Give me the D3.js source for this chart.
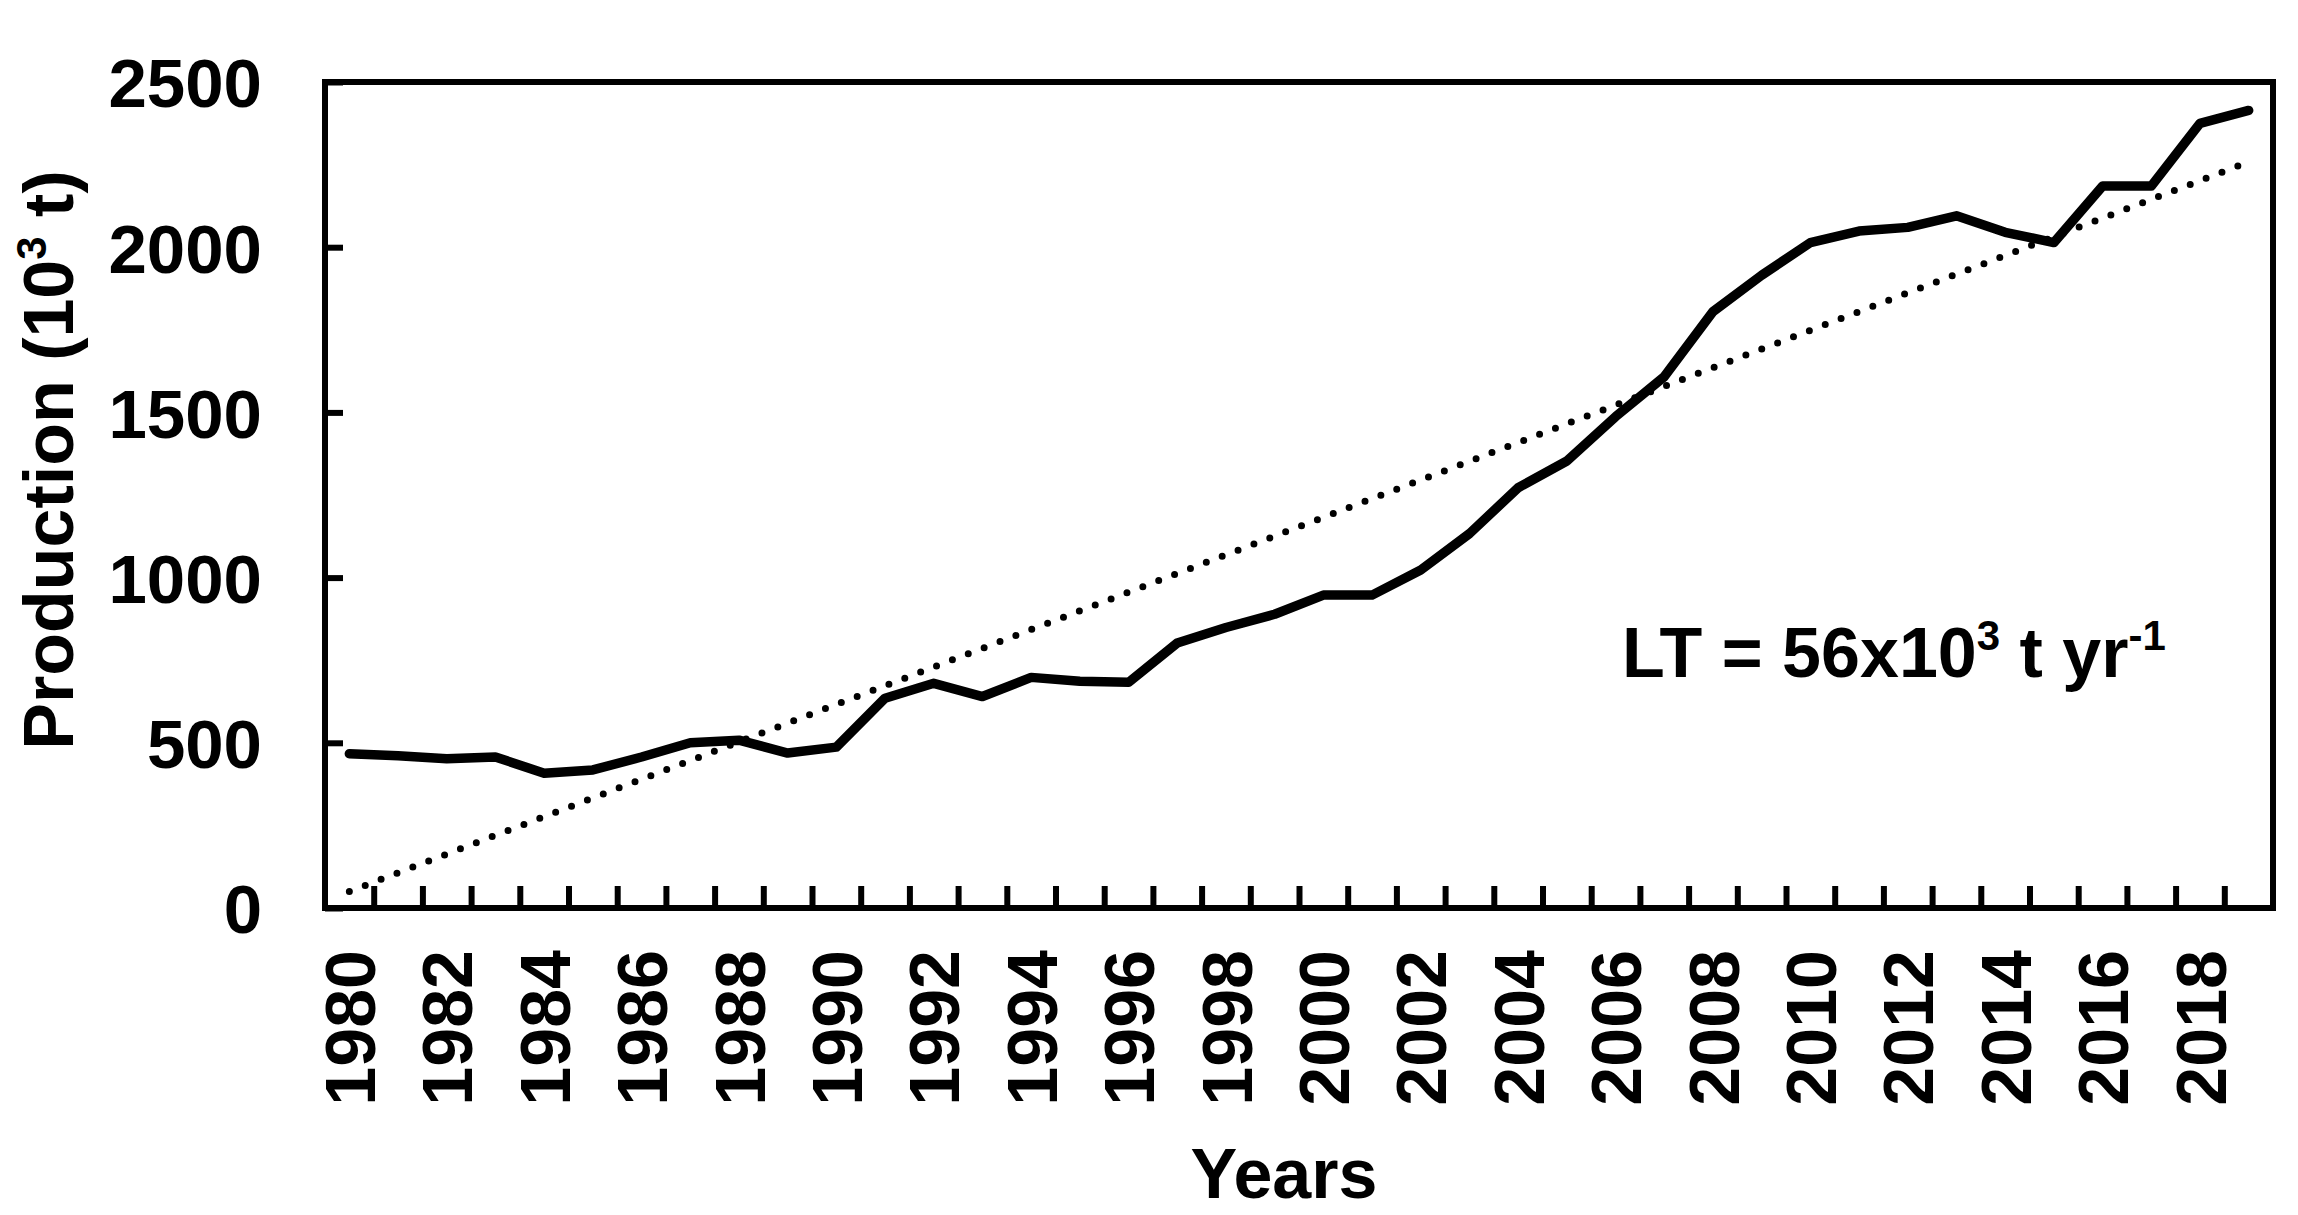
<!DOCTYPE html>
<html><head><meta charset="utf-8">
<script src="https://cdn.jsdelivr.net/npm/d3@7"></script>
<style>html,body{margin:0;padding:0;background:#fff;} svg{display:block;}</style>
</head><body>
<svg id="chart" width="2298" height="1215"></svg>
<script>
// ---- data ----
const years = [1980,1981,1982,1983,1984,1985,1986,1987,1988,1989,
               1990,1991,1992,1993,1994,1995,1996,1997,1998,1999,
               2000,2001,2002,2003,2004,2005,2006,2007,2008,2009,
               2010,2011,2012,2013,2014,2015,2016,2017,2018,2019];
const production = [467,461,452,457,408,418,457,500,508,469,
                    487,635,680,640,698,686,683,802,849,889,
                    947,947,1023,1133,1272,1353,1487,1608,1805,1915,
                    2014,2049,2060,2095,2045,2014,2185,2185,2375,2414];
const trendYears = [1980, 2019];
const trendValues = [50, 2258];
const yTickValues = [0, 500, 1000, 1500, 2000, 2500];
const xLabelYears = [1980,1982,1984,1986,1988,1990,1992,1994,1996,1998,
                     2000,2002,2004,2006,2008,2010,2012,2014,2016,2018];
const xTitle = "Years";
const yTitleParts = ["Production (10", "3", " t)"];
const annotationParts = ["LT = 56x10", "3", " t yr", "-1"];

// ---- layout ----
const W = 2298, H = 1215;
const L = 325, R = 2273, T = 82, B = 908;
const FONT = "'Liberation Sans', Arial, Helvetica, sans-serif";
const FS = 70;

const svg = d3.select("#chart");
const x = d3.scaleLinear().domain([years[0] - 0.5, years[years.length - 1] + 0.5]).range([L, R]);
const y = d3.scaleLinear().domain([0, 2500]).range([B, T]);

// x tick marks at category boundaries (inward)
const boundaries = years.slice(0, -1).map(d => d + 0.5);
const gxTicks = svg.append("g").attr("transform", `translate(0,${B})`)
  .call(d3.axisBottom(x).tickValues(boundaries).tickSize(-22).tickFormat(""));
gxTicks.select(".domain").remove();
gxTicks.selectAll(".tick line").attr("stroke", "#000").attr("stroke-width", 6);

// x labels, rotated
const gxLab = svg.append("g").attr("transform", `translate(0,${B})`)
  .call(d3.axisBottom(x).tickValues(xLabelYears).tickSize(0).tickFormat(d3.format("d")));
gxLab.select(".domain").remove();
gxLab.selectAll(".tick text")
  .attr("font-family", FONT).attr("font-size", FS).attr("font-weight", "bold").attr("fill", "#000")
  .attr("transform", "rotate(-90)")
  .attr("text-anchor", "end")
  .attr("x", -42).attr("y", 0).attr("dy", "0.36em");

// y axis
const gy = svg.append("g").attr("transform", `translate(${L},0)`)
  .call(d3.axisLeft(y).tickValues(yTickValues).tickSize(-18).tickPadding(63).tickFormat(d3.format("d")));
gy.select(".domain").remove();
gy.selectAll(".tick line").attr("stroke", "#000").attr("stroke-width", 6);
gy.selectAll(".tick text")
  .attr("font-family", FONT).attr("font-size", 69).attr("font-weight", "bold").attr("fill", "#000")
  .attr("dy", "0.36em");

// trend line (dotted)
const trendData = trendYears.map((d, i) => ({year: d, value: trendValues[i]}));
const lineGen = d3.line().x(d => x(d.year)).y(d => y(d.value));
svg.append("path").datum(trendData)
  .attr("d", lineGen)
  .attr("fill", "none").attr("stroke", "#000").attr("stroke-width", 7)
  .attr("stroke-linecap", "round").attr("stroke-dasharray", "0 17");

// production line
const data = years.map((d, i) => ({year: d, value: production[i]}));
svg.append("path").datum(data)
  .attr("d", lineGen)
  .attr("fill", "none").attr("stroke", "#000").attr("stroke-width", 9.5)
  .attr("stroke-linejoin", "round").attr("stroke-linecap", "round");

// frame
svg.append("rect").attr("x", L).attr("y", T).attr("width", R - L).attr("height", B - T)
  .attr("fill", "none").attr("stroke", "#000").attr("stroke-width", 6);

// x title
svg.append("text").attr("x", 1284).attr("y", 1198)
  .attr("text-anchor", "middle")
  .attr("font-family", FONT).attr("font-size", FS).attr("font-weight", "bold")
  .text(xTitle);

// y title
const yt = svg.append("text")
  .attr("transform", `translate(73,460) rotate(-90)`)
  .attr("text-anchor", "middle")
  .attr("font-family", FONT).attr("font-size", FS).attr("font-weight", "bold");
yt.append("tspan").text(yTitleParts[0]);
yt.append("tspan").attr("font-size", FS * 0.6).attr("dy", -27).text(yTitleParts[1]);
yt.append("tspan").attr("dy", 27).text(yTitleParts[2]);

// annotation
const an = svg.append("text").attr("x", 1622).attr("y", 677)
  .attr("font-family", FONT).attr("font-size", FS).attr("font-weight", "bold");
an.append("tspan").text(annotationParts[0]);
an.append("tspan").attr("font-size", FS * 0.6).attr("dy", -27).text(annotationParts[1]);
an.append("tspan").attr("dy", 27).text(annotationParts[2]);
an.append("tspan").attr("font-size", FS * 0.6).attr("dy", -27).text(annotationParts[3]);
</script>
</body></html>
